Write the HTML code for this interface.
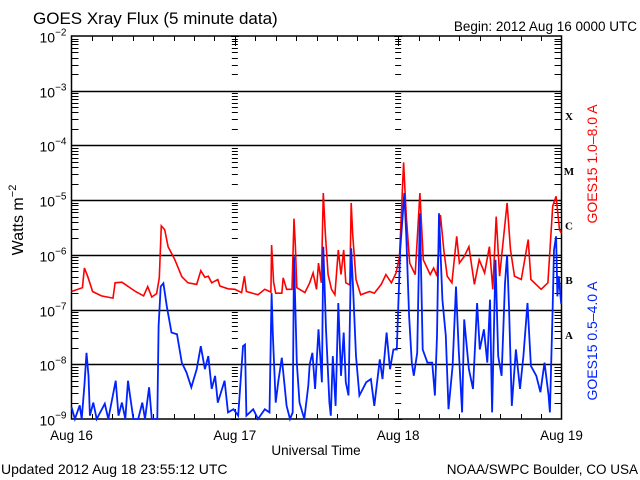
<!DOCTYPE html>
<html><head><meta charset="utf-8"><style>
html,body{margin:0;padding:0;background:#fff;}
svg{display:block;font-family:"Liberation Sans",sans-serif;}
</style></head><body>
<svg id="chart" width="640" height="480" viewBox="0 0 640 480" xmlns="http://www.w3.org/2000/svg">
<rect width="640" height="480" fill="#fff"/>
<text x="33" y="24" font-size="17" fill="#000">GOES Xray Flux (5 minute data)</text>
<text x="637" y="31" font-size="13.5" text-anchor="end" fill="#000">Begin:  2012 Aug 16 0000 UTC</text>
<text transform="translate(23,220) rotate(-90)" font-size="16" text-anchor="middle" fill="#000">Watts m<tspan font-size="11" dy="-7">−2</tspan></text>
<text x="316" y="455" font-size="13.5" text-anchor="middle" fill="#000">Universal Time</text>
<text x="1" y="474" font-size="14" fill="#000">Updated 2012 Aug 18 23:55:12 UTC</text>
<text x="638" y="474" font-size="13.5" text-anchor="end" fill="#000">NOAA/SWPC Boulder, CO USA</text>
<text transform="translate(597,164) rotate(-90)" font-size="14" text-anchor="middle" fill="#ff0000">GOES15 1.0–8.0 A</text>
<text transform="translate(597,341) rotate(-90)" font-size="14" text-anchor="middle" fill="#0022ff">GOES15 0.5–4.0 A</text>
<g id="axes"></g>
<g id="series"></g>
</svg>
<script>
const dayLabels = ["Aug 16","Aug 17","Aug 18","Aug 19"];
const decadeExps = [-9,-8,-7,-6,-5,-4,-3,-2];
const flareClasses = ["A","B","C","M","X"];
const longHours = [0,1.6,1.9,2.4,3.1,4.4,6.1,6.4,7.4,9.4,10.6,11.2,11.8,12.5,12.9,13.2,13.7,14.2,15.2,16.2,17.1,18.4,19,19.6,20.1,20.6,21.5,21.8,23,24,25,25.4,25.7,27.4,28.4,29.3,29.4,29.7,30,30.9,31.1,31.6,32.4,32.7,32.9,33.1,34.3,35,35.5,36,36.3,36.7,37,37.3,37.7,38.2,38.7,39.2,39.6,40,40.3,40.9,41.1,41.3,41.8,42.5,43.8,44.5,45.5,46.2,47,47.7,48.2,48.8,49.2,49.7,50.5,51.2,51.7,52.7,53.2,53.7,54.2,54.7,55.2,55.9,56.6,57,57.7,58.4,59.2,59.9,60.7,61.4,61.9,62.4,62.9,64,64.5,65.1,66.1,67.1,67.5,69,70,70.7,71.2,71.7,71.95];
const longLog = [-6.67,-6.6,-6.24,-6.4,-6.67,-6.75,-6.79,-6.51,-6.5,-6.67,-6.75,-6.58,-6.77,-6.71,-6.42,-5.47,-5.54,-5.85,-6.09,-6.4,-6.51,-6.54,-6.29,-6.41,-6.39,-6.51,-6.45,-6.57,-6.62,-6.63,-6.69,-6.39,-6.67,-6.73,-6.63,-6.68,-5.82,-6.5,-6.7,-6.7,-6.42,-6.63,-6.63,-5.34,-5.85,-6.6,-6.69,-6.51,-6.33,-6.63,-6.15,-6.51,-4.87,-5.6,-6.36,-6.63,-6.73,-5.91,-6.36,-5.91,-6.51,-6.55,-5.05,-5.6,-6.45,-6.73,-6.67,-6.7,-6.54,-6.36,-6.51,-6.33,-6.03,-4.31,-5.3,-6.15,-6.36,-4.87,-6.09,-6.36,-6.24,-6.39,-5.27,-5.91,-6.39,-6.51,-5.66,-6.15,-6.03,-5.85,-6.54,-6.09,-6.33,-5.85,-6.63,-5.3,-6.39,-5.05,-5.91,-6.39,-6.45,-5.72,-6.45,-6.63,-6.51,-5.11,-4.93,-5.54,-5.6];
const shortHours = [0,0.5,1.2,1.5,1.9,2.2,2.5,2.7,3.2,3.7,4.9,5.4,6.5,6.9,7.4,7.9,8.3,8.6,9.1,9.8,10.4,10.8,11.4,11.8,12.6,12.8,13.1,13.5,14,14.7,15.5,16.2,16.9,17.6,18.4,19,19.6,20.1,20.6,21.1,21.5,22.5,23,23.8,24.5,25.2,25.5,25.7,26.7,27.4,28.4,29.1,29.4,29.6,30,30.4,30.9,31.6,32.1,32.5,32.7,33.1,33.5,34.2,34.8,35,35.4,35.8,36.3,36.8,37,37.4,37.9,38.1,38.4,38.8,39.2,39.6,40,40.3,40.7,41.1,41.4,41.8,42.3,43.3,44,44.5,45.3,45.7,46.3,46.8,47.3,47.8,48.3,48.9,49.2,49.6,50,50.3,50.8,51.2,51.6,52.3,53,53.4,53.7,54,54.5,55,55.4,56,56.5,56.9,57.4,57.7,58.4,59,59.6,60,60.6,61.1,61.5,61.8,62.3,62.7,63.2,63.7,64,64.3,64.7,65.3,65.9,66.4,67,67.5,68.3,68.9,69.5,70.1,70.3,70.7,70.9,71.2,71.4,71.6,71.95];
const shortLog = [-8.78,-9,-8.75,-9,-8.39,-7.79,-8.21,-8.94,-8.7,-9.1,-8.72,-9.1,-8.3,-8.94,-8.7,-9.1,-8.3,-8.57,-9.1,-9.1,-8.7,-9.1,-8.42,-9.1,-9.1,-7.3,-6.58,-6.52,-6.94,-7.42,-7.45,-7.97,-8.15,-8.42,-8.09,-7.67,-8.09,-7.85,-8.45,-8.21,-8.7,-8.3,-8.88,-8.82,-8.94,-7.67,-7.64,-8.94,-8.82,-9.1,-8.82,-8.88,-6.7,-7.48,-8.7,-8.3,-7.88,-8.76,-9.1,-8.88,-6.03,-7.97,-8.7,-9.1,-8.39,-8.0,-7.79,-8.45,-7.36,-8.33,-5.85,-7.36,-8.7,-8.94,-7.85,-8.76,-6.88,-8.21,-7.42,-8.33,-8.57,-5.88,-6.7,-7.85,-8.57,-8.33,-8.27,-8.76,-7.91,-8.27,-7.42,-8.09,-7.73,-7.73,-5.91,-4.87,-5.66,-7.12,-7.97,-8.21,-7.79,-5.24,-7.73,-7.97,-7.97,-8.57,-7.48,-5.24,-6.82,-7.48,-8.82,-8.03,-6.58,-7.73,-8.88,-7.18,-8.09,-8.45,-6.88,-7.73,-7.36,-7.97,-6.82,-8.88,-6.09,-7.85,-8.21,-6.52,-6.0,-7.0,-8.76,-7.73,-8.45,-7.85,-6.88,-8.03,-8.21,-8.51,-7.97,-8.57,-8.88,-6.94,-5.91,-5.66,-6.76,-6.39,-6.9];

const NS="http://www.w3.org/2000/svg";
const X0=71.5,X1=561.5,Y0=36,Y1=419;
const xScale=h=>X0+(X1-X0)*h/72;
const yScale=l=>Y1-(Y1-Y0)*(Math.max(-9,Math.min(-2,l))+9)/7;
const axes=document.getElementById('axes');
const series=document.getElementById('series');
function mk(tag,parent){const e=document.createElementNS(NS,tag);parent.appendChild(e);return e;}
function line(x1,y1,x2,y2,parent,w){const l=mk('line',parent);l.setAttribute('x1',x1);l.setAttribute('y1',y1);l.setAttribute('x2',x2);l.setAttribute('y2',y2);l.setAttribute('stroke','#000');l.setAttribute('stroke-width',w||1);return l;}

decadeExps.forEach(e=>{
  const y=Math.round(yScale(e))+0.5;
  if(e>-9&&e<-2){const g=line(X0,y,X1,y,axes,1.5);
  
  }
  const t=mk('text',axes);
  
  
  t.setAttribute('x',X0-32);t.setAttribute('y',y+6);t.setAttribute('font-size','14');
  t.textContent='10';
  const s=mk('tspan',t);s.setAttribute('font-size','10');s.setAttribute('dy','-7');s.textContent=String(e).replace('-','−');
  if(e<-2){for(let m=2;m<=9;m++){const yy=Math.round(yScale(e+Math.log10(m)))+0.5;
    [X0,xScale(24),xScale(48),X1].forEach((xx,i)=>{
      if(i==0)line(X0,yy,X0+7,yy,axes);
      else if(i==3)line(X1-7,yy,X1,yy,axes);
      else line(xx-3,yy,xx+3,yy,axes);
    });}}
  [xScale(24),xScale(48)].forEach(xx=>line(xx-4,y,xx+4,y,axes));
});
for(let h=3;h<72;h+=3){const xx=Math.round(xScale(h))+0.5;
  const L=(h%24==0)?10:5;line(xx,Y0,xx,Y0+L,axes);line(xx,Y1-L,xx,Y1,axes);}
dayLabels.forEach((d,i)=>{
  const t=mk('text',axes);
  
  
  t.setAttribute('x',xScale(i*24));t.setAttribute('y',440);t.setAttribute('font-size','13.5');t.setAttribute('text-anchor','middle');t.textContent=d;
});
flareClasses.forEach((c,i)=>{
  const t=mk('text',axes);
  
  
  t.setAttribute('x',569);t.setAttribute('y',yScale(-7.5+i)+2);t.setAttribute('font-size','11');t.setAttribute('font-weight','bold');t.setAttribute('font-family','"Liberation Serif",serif');t.setAttribute('text-anchor','middle');t.textContent=c;
});
function linePath(hs,ls){let d='';for(let i=0;i<hs.length;i++){const x=xScale(hs[i]).toFixed(1),y=yScale(ls[i]).toFixed(1);
  d+=(i==0?'M':'L')+x+' '+y;}return d;}
const pl=mk('path',series);


pl.setAttribute('d',linePath(longHours,longLog));pl.setAttribute('fill','none');pl.setAttribute('stroke','#ff0000');pl.setAttribute('stroke-width','1.6');
const ps=mk('path',series);


ps.setAttribute('d',linePath(shortHours,shortLog));ps.setAttribute('fill','none');ps.setAttribute('stroke','#0022ff');ps.setAttribute('stroke-width','1.8');
const fr=mk('rect',axes);


fr.setAttribute('x',X0);fr.setAttribute('y',Y0);fr.setAttribute('width',X1-X0);fr.setAttribute('height',Y1-Y0);fr.setAttribute('fill','none');fr.setAttribute('stroke','#000');fr.setAttribute('stroke-width','1.5');
</script>
</body></html>
